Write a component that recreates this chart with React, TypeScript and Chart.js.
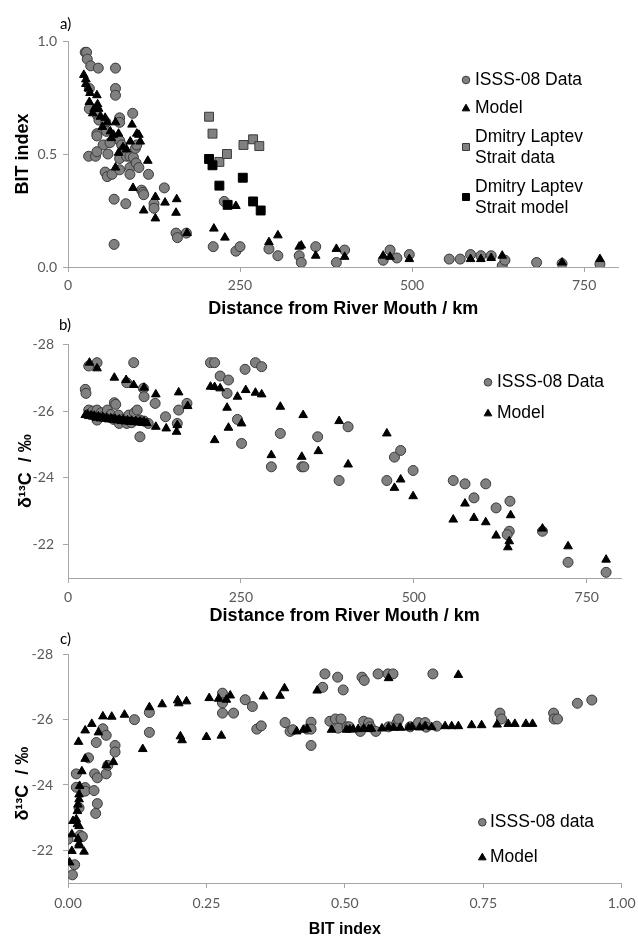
import React, { useEffect, useRef } from "react";
import { Chart, registerables } from "chart.js";
Chart.register(...registerables);

type Pt = [number, number];

// ---------- Panel a: BIT index vs distance (km) ----------
const aIsssData: Pt[] = [
  [25, 0.95], [27, 0.95], [28, 0.92], [33, 0.89], [44, 0.88], [69, 0.88], [69, 0.79], [69, 0.76],
  [31, 0.79], [31, 0.7], [43, 0.67], [45, 0.65], [42, 0.59], [42, 0.58], [55, 0.64], [56, 0.6],
  [75, 0.66], [75, 0.64], [75, 0.56], [94, 0.68], [51, 0.54], [58, 0.5], [30, 0.49], [40, 0.49],
  [42, 0.51], [54, 0.42], [57, 0.4], [64, 0.41], [61, 0.55], [75, 0.48], [75, 0.43], [78, 0.54],
  [81, 0.52], [85, 0.49], [90, 0.49], [95, 0.485], [90, 0.44], [90, 0.41], [99, 0.46], [98, 0.525],
  [100, 0.54], [103, 0.44], [117, 0.41], [107, 0.34], [109, 0.33], [110, 0.32], [125, 0.28], [125, 0.26],
  [140, 0.35], [84, 0.28], [67, 0.3], [67, 0.1], [157, 0.15], [159, 0.13], [172, 0.15], [227, 0.29],
  [211, 0.09], [244, 0.07], [250, 0.09], [292, 0.08], [305, 0.05], [336, 0.05], [339, 0.02], [360, 0.09],
  [390, 0.02], [402, 0.075], [458, 0.03], [468, 0.075], [478, 0.04], [496, 0.055], [554, 0.035], [570, 0.035],
  [585, 0.055], [600, 0.05], [615, 0.05], [631, 0.005], [635, 0.03], [681, 0.02], [718, 0.015], [773, 0.013],
];
const aModel: Pt[] = [
  [23, 0.85], [26, 0.83], [26, 0.81], [29.5, 0.79], [32, 0.77], [31, 0.73], [36, 0.68], [38, 0.7],
  [42, 0.76], [43, 0.72], [44.5, 0.7], [47, 0.665], [50, 0.62], [54, 0.66], [57, 0.64], [61.5, 0.6],
  [63, 0.57], [66, 0.585], [69, 0.64], [73.5, 0.59], [80, 0.53], [85, 0.52], [93, 0.63], [100, 0.59],
  [103, 0.585], [90.5, 0.555], [105, 0.555], [73.5, 0.505], [69, 0.44], [94.5, 0.35], [110, 0.25], [116, 0.47],
  [127, 0.31], [127, 0.215], [141, 0.285], [158, 0.3], [157, 0.24], [173, 0.15], [212, 0.17], [228, 0.13],
  [244, 0.27], [292, 0.11], [305, 0.14], [336, 0.09], [339, 0.095], [360, 0.05], [390, 0.08], [402, 0.045],
  [458, 0.05], [468, 0.045], [496, 0.035], [585, 0.035], [600, 0.035], [615, 0.04], [631, 0.05], [718, 0.02],
  [773, 0.035],
];
const aLaptevData: Pt[] = [
  [205, 0.665], [210, 0.59], [220, 0.465], [231, 0.5], [255, 0.54], [269, 0.565], [278, 0.535],
];
const aLaptevModel: Pt[] = [
  [205, 0.478], [210, 0.45], [220, 0.36], [232, 0.275], [254, 0.395], [269, 0.29], [280, 0.25],
];

// ---------- Panel b: d13C vs distance (km) ----------
const bIsssData: Pt[] = [
  [25, -26.65], [26, -26.53], [30, -27.35], [42, -27.45], [95, -27.45], [85, -26.85], [109, -26.68], [110, -26.43],
  [126, -26.23], [141, -25.83], [160, -26.03], [158, -25.63], [172, -26.23], [104, -25.23], [116, -25.63], [67, -26.25],
  [69, -26.2], [30, -26.03], [36, -26.0], [42, -26.03], [42, -25.73], [48, -25.95], [52, -25.85], [57, -26.03],
  [62, -25.9], [66, -25.75], [73, -25.88], [74, -25.63], [80, -25.75], [85, -25.63], [88, -25.88], [92, -25.65],
  [96, -25.95], [100, -26.03], [104, -25.73], [110, -25.7],
  [206, -27.45], [212, -27.45], [220, -27.05], [232, -26.93], [230, -26.53], [256, -27.25], [271, -27.45], [280, -27.33],
  [245, -25.75], [251, -25.03], [294, -24.33], [307, -25.33], [338, -24.33], [341, -24.33], [361, -25.23], [392, -23.92],
  [405, -25.53], [461, -23.92], [472, -24.62], [481, -24.82], [499, -24.22], [557, -23.92], [574, -23.82], [587, -23.4],
  [604, -23.82], [619, -23.1], [639, -23.3], [638, -22.4], [635, -22.3], [686, -22.4], [723, -21.47], [778, -21.17],
];
const bModel: Pt[] = [
  [31, -27.45], [42, -27.28], [67, -27.0], [84, -26.93], [95, -26.78], [110, -26.7], [127, -26.5], [127, -25.53],
  [142, -25.48], [157, -25.38], [158, -25.58], [160, -26.56], [173, -26.15], [206, -26.73], [212, -26.72], [220, -26.68],
  [230, -26.1], [212, -25.13], [232, -25.5], [245, -26.43], [251, -25.63], [257, -26.63], [271, -26.55], [280, -26.5],
  [294, -24.68], [307, -26.13], [338, -24.63], [340, -25.88], [362, -24.8], [392, -25.7], [405, -24.4], [461, -25.33],
  [472, -23.7], [481, -23.95], [499, -23.45], [557, -22.75], [574, -23.23], [587, -22.8], [604, -22.67], [619, -22.27],
  [636, -21.92], [638, -22.1], [640, -22.88], [686, -22.48], [723, -21.95], [778, -21.55],
  [25, -25.88], [28, -25.9], [30, -25.85], [33, -25.87], [36, -25.83], [38, -25.86], [41, -25.8], [44, -25.84],
  [47, -25.78], [50, -25.82], [53, -25.77], [56, -25.8], [59, -25.75], [62, -25.78], [65, -25.74], [68, -25.77],
  [71, -25.72], [74, -25.75], [77, -25.7], [80, -25.74], [83, -25.69], [86, -25.72], [89, -25.68], [92, -25.71],
  [95, -25.67], [98, -25.7], [101, -25.66], [104, -25.69], [107, -25.65], [110, -25.68], [114, -25.64],
];

// ---------- Panel c: d13C vs BIT index ----------
const cIsssData: Pt[] = [
  [0.0, -22.34], [0.008, -21.25], [0.012, -21.56], [0.015, -24.34], [0.015, -23.93], [0.02, -23.3], [0.022, -22.46], [0.026, -22.42],
  [0.031, -23.92], [0.031, -23.81], [0.037, -24.83], [0.048, -24.34], [0.047, -23.83], [0.053, -24.22], [0.053, -23.43], [0.05, -23.13],
  [0.051, -25.3], [0.063, -25.72], [0.069, -25.52], [0.069, -24.34], [0.072, -24.6], [0.085, -25.21], [0.085, -25.01], [0.12, -26.0],
  [0.147, -26.22], [0.147, -25.61], [0.279, -26.81], [0.279, -26.51], [0.279, -26.2], [0.299, -26.2], [0.32, -26.61], [0.333, -26.4],
  [0.341, -25.71], [0.349, -25.81], [0.392, -25.91], [0.401, -25.64], [0.406, -25.69], [0.432, -25.71], [0.439, -25.92], [0.439, -25.71],
  [0.439, -25.21], [0.464, -27.4], [0.46, -26.99], [0.487, -27.3], [0.497, -26.91], [0.531, -27.3], [0.535, -27.2], [0.56, -27.4],
  [0.578, -27.4], [0.587, -27.4], [0.659, -27.4], [0.473, -25.95], [0.483, -26.02], [0.493, -26.02], [0.488, -25.74], [0.504, -25.78],
  [0.508, -25.78], [0.528, -25.64], [0.534, -25.95], [0.543, -25.9], [0.546, -25.78], [0.556, -25.64], [0.579, -25.78], [0.594, -25.9],
  [0.597, -26.02], [0.618, -25.78], [0.633, -25.91], [0.645, -25.91], [0.647, -25.77], [0.666, -25.8], [0.78, -26.2], [0.783, -26.02],
  [0.877, -26.2], [0.878, -26.02], [0.884, -26.02], [0.92, -26.5], [0.946, -26.6],
];
const cModel: Pt[] = [
  [0.003, -21.63], [0.007, -21.98], [0.029, -21.96], [0.007, -22.49], [0.018, -22.35], [0.02, -22.2], [0.02, -22.15], [0.009, -22.9],
  [0.015, -22.95], [0.017, -22.8], [0.02, -22.74], [0.017, -23.2], [0.018, -23.4], [0.02, -23.56], [0.02, -23.71], [0.021, -23.97],
  [0.025, -24.42], [0.031, -24.8], [0.069, -24.6], [0.082, -24.7], [0.019, -25.32], [0.031, -25.67], [0.043, -25.87], [0.055, -25.61],
  [0.063, -26.1], [0.079, -26.09], [0.102, -26.15], [0.135, -25.1], [0.147, -26.38], [0.17, -26.47], [0.198, -26.59], [0.2, -26.5],
  [0.214, -26.56], [0.203, -25.49], [0.206, -25.37], [0.25, -25.47], [0.255, -26.66], [0.272, -26.64], [0.277, -25.51], [0.286, -26.61],
  [0.293, -26.74], [0.353, -26.71], [0.383, -26.73], [0.391, -26.96], [0.413, -25.64], [0.425, -25.69], [0.432, -25.72], [0.45, -26.89],
  [0.579, -27.27], [0.705, -27.37],
  [0.476, -25.69], [0.503, -25.69], [0.509, -25.7], [0.515, -25.7], [0.524, -25.71], [0.534, -25.72], [0.543, -25.71], [0.548, -25.72],
  [0.567, -25.73], [0.579, -25.76], [0.588, -25.75], [0.6, -25.75], [0.615, -25.76], [0.621, -25.78], [0.635, -25.76], [0.645, -25.8],
  [0.657, -25.77], [0.681, -25.8], [0.693, -25.8], [0.705, -25.8], [0.729, -25.83], [0.747, -25.83], [0.775, -25.85], [0.795, -25.87],
  [0.807, -25.87], [0.827, -25.87], [0.839, -25.87],
];

// ---------- tick labels ----------
const distanceTicks = [0, 250, 500, 750];
const bitTicksY = [0, 0.5, 1.0];
const d13cTicks = [-28, -26, -24, -22];
const bitTicksX = [0, 0.25, 0.5, 0.75, 1.0];

const AXIS_GRAY = "#a6a6a6";
const TICK_COLOR = "#595959";
const TICK_FONT = { family: "Lato, 'Liberation Sans', sans-serif", size: 14 };
const TITLE_FAMILY = "'Liberation Sans', Arial, sans-serif";
const GRAY = "#808080";
const EDGE = "#3a3a3a";

type MarkerStyle = "circle" | "triangle" | "rect";

function drawMarker(ctx: CanvasRenderingContext2D, style: MarkerStyle, x: number, y: number, s: number, fill: string, stroke: string) {
  ctx.save();
  ctx.beginPath();
  if (style === "circle") {
    ctx.arc(x, y, s, 0, Math.PI * 2);
  } else if (style === "triangle") {
    ctx.moveTo(x, y - s);
    ctx.lineTo(x + s, y + s * 0.75);
    ctx.lineTo(x - s, y + s * 0.75);
    ctx.closePath();
  } else {
    ctx.rect(x - s, y - s, 2 * s, 2 * s);
  }
  ctx.fillStyle = fill;
  ctx.fill();
  ctx.lineWidth = 1;
  ctx.strokeStyle = stroke;
  ctx.stroke();
  ctx.restore();
}

type LegendEntry = { style: MarkerStyle; fill: string; stroke: string; size: number; mx: number; my: number; tx: number; lines: [string, number][] };

function overlayPlugin(label: string, labelPos: [number, number], entries: LegendEntry[]) {
  return {
    id: "overlay",
    afterDraw(chart: any) {
      const ctx: CanvasRenderingContext2D = chart.ctx;
      ctx.save();
      ctx.fillStyle = "#000";
      ctx.textBaseline = "middle";
      ctx.textAlign = "left";
      ctx.font = "15px Lato, 'Liberation Sans', sans-serif";
      ctx.fillText(label, labelPos[0], labelPos[1]);
      ctx.font = `17.5px ${TITLE_FAMILY}`;
      for (const e of entries) {
        drawMarker(ctx, e.style, e.mx, e.my, e.size, e.fill, e.stroke);
        for (const [t, y] of e.lines) {
          ctx.fillStyle = "#000";
          ctx.fillText(t, e.tx, y);
        }
      }
      ctx.restore();
    },
  };
}

type AxisSpec = {
  isX: boolean; min: number; max: number; reverse?: boolean; ticks: number[];
  fmt: (v: number) => string; size: number; pad: number; title: string; titleSize: number; titlePad: number;
};

function axis(a: AxisSpec) {
  return {
    type: "linear",
    position: a.isX ? "bottom" : "left",
    min: a.min,
    max: a.max,
    reverse: !!a.reverse,
    afterBuildTicks: (s: any) => {
      s.ticks = a.ticks.map((v) => ({ value: v }));
    },
    afterFit: (s: any) => {
      if (a.isX) s.height = a.size;
      else s.width = a.size;
      s.paddingLeft = 0;
      s.paddingRight = 0;
      s.paddingTop = 0;
      s.paddingBottom = 0;
    },
    grid: { display: true, drawOnChartArea: false, drawTicks: true, tickLength: 5, color: AXIS_GRAY, lineWidth: 1 },
    border: { display: true, color: AXIS_GRAY, width: 1 },
    ticks: {
      color: TICK_COLOR,
      font: TICK_FONT,
      padding: a.pad,
      autoSkip: false,
      maxRotation: 0,
      callback: (v: any) => a.fmt(Number(v)),
    },
    title: {
      display: true,
      text: a.title,
      color: "#000",
      font: { family: TITLE_FAMILY, size: a.titleSize, weight: "bold" },
      padding: { top: a.titlePad, bottom: a.titlePad },
    },
  };
}

function ds(label: string, pts: Pt[], style: MarkerStyle, fill: string, stroke: string, r: number, order: number) {
  return {
    label,
    data: pts.map(([x, y]) => ({ x, y })),
    pointStyle: style,
    pointRadius: r,
    pointHoverRadius: r,
    pointBackgroundColor: fill,
    pointBorderColor: stroke,
    pointBorderWidth: 1,
    showLine: false,
    order,
  };
}

function baseOptions(padding: any, x: any, y: any) {
  return {
    responsive: false,
    animation: false,
    devicePixelRatio: 1,
    layout: { padding },
    plugins: { legend: { display: false }, tooltip: { enabled: false } },
    scales: { x, y },
  };
}

const fmtInt = (v: number) => String(v);

function configA() {
  return {
    type: "scatter",
    data: {
      datasets: [
        ds("Dmitry Laptev Strait model", aLaptevModel, "rect", "#000", "#000", 6.3, 0),
        ds("Dmitry Laptev Strait data", aLaptevData, "rect", GRAY, EDGE, 6.3, 1),
        ds("Model", aModel, "triangle", "#000", "#000", 5, 2),
        ds("ISSS-08 Data", aIsssData, "circle", GRAY, EDGE, 5, 3),
      ],
    },
    options: baseOptions(
      { top: 41, right: 19.5, bottom: 0, left: 0 },
      axis({ isX: true, min: 0, max: 800, ticks: distanceTicks, fmt: fmtInt, size: 53, pad: 5, title: "Distance from River Mouth / km", titleSize: 18, titlePad: 0 }),
      axis({ isX: false, min: 0, max: 1, ticks: bitTicksY, fmt: (v) => v.toFixed(1), size: 68, pad: 6, title: "BIT index", titleSize: 18, titlePad: 12 })
    ),
    plugins: [
      overlayPlugin("a)", [60, 24], [
        { style: "circle", fill: GRAY, stroke: EDGE, size: 3.8, mx: 466, my: 80, tx: 475, lines: [["ISSS-08 Data", 80]] },
        { style: "triangle", fill: "#000", stroke: "#000", size: 3.8, mx: 466, my: 108, tx: 475, lines: [["Model", 108]] },
        { style: "rect", fill: GRAY, stroke: EDGE, size: 3.5, mx: 466, my: 147, tx: 475, lines: [["Dmitry Laptev", 137], ["Strait data", 158]] },
        { style: "rect", fill: "#000", stroke: "#000", size: 3.5, mx: 466, my: 197, tx: 475, lines: [["Dmitry Laptev", 187], ["Strait model", 208]] },
      ]),
    ],
  };
}

function configB() {
  return {
    type: "scatter",
    data: {
      datasets: [
        ds("Model", bModel, "triangle", "#000", "#000", 5, 0),
        ds("ISSS-08 Data", bIsssData, "circle", GRAY, EDGE, 5, 1),
      ],
    },
    options: baseOptions(
      { top: 30.3, right: 16.7, bottom: 0, left: 0 },
      axis({ isX: true, min: 0, max: 800, ticks: distanceTicks, fmt: fmtInt, size: 49, pad: 6.5, title: "Distance from River Mouth / km", titleSize: 18, titlePad: 0 }),
      axis({ isX: false, min: -28, max: -21, reverse: true, ticks: d13cTicks, fmt: fmtInt, size: 68, pad: 9, title: "\u03b4\u00b9\u00b3C  / \u2030\u00a0\u00a0\u00a0\u00a0", titleSize: 18, titlePad: 15 })
    ),
    plugins: [
      overlayPlugin("b)", [59, 11], [
        { style: "circle", fill: GRAY, stroke: EDGE, size: 3.8, mx: 488, my: 68.3, tx: 497, lines: [["ISSS-08 Data", 68]] },
        { style: "triangle", fill: "#000", stroke: "#000", size: 3.8, mx: 488, my: 99, tx: 497, lines: [["Model", 99]] },
      ]),
    ],
  };
}

function configC() {
  return {
    type: "scatter",
    data: {
      datasets: [
        ds("Model", cModel, "triangle", "#000", "#000", 5, 0),
        ds("ISSS-08 data", cIsssData, "circle", GRAY, EDGE, 5, 1),
      ],
    },
    options: baseOptions(
      { top: 29.3, right: 16.3, bottom: 0, left: 0 },
      axis({ isX: true, min: 0, max: 1, ticks: bitTicksX, fmt: (v) => v.toFixed(2), size: 56, pad: 7.5, title: "BIT index", titleSize: 16, titlePad: 0 }),
      axis({ isX: false, min: -28, max: -21, reverse: true, ticks: d13cTicks, fmt: fmtInt, size: 68, pad: 10, title: "\u03b4\u00b9\u00b3C  / \u2030\u00a0\u00a0\u00a0\u00a0\u00a0\u00a0", titleSize: 18, titlePad: 12 })
    ),
    plugins: [
      overlayPlugin("c)", [60, 14], [
        { style: "circle", fill: GRAY, stroke: EDGE, size: 3.8, mx: 482.3, my: 197.3, tx: 490, lines: [["ISSS-08 data", 197]] },
        { style: "triangle", fill: "#000", stroke: "#000", size: 3.8, mx: 482.3, my: 232, tx: 490, lines: [["Model", 232]] },
      ]),
    ],
  };
}

function Panel({ top, height, make }: { top: number; height: number; make: () => any }) {
  const ref = useRef<HTMLCanvasElement>(null);
  useEffect(() => {
    const chart = new Chart(ref.current as HTMLCanvasElement, make());
    return () => chart.destroy();
  }, [make]);
  return (
    <canvas
      ref={ref}
      width={638}
      height={height}
      style={{ position: "absolute", left: 0, top, width: 638, height, display: "block" }}
    />
  );
}

export default function App() {
  useEffect(() => {
    document.body.style.margin = "0";
    document.body.style.background = "#fff";
  }, []);
  return (
    <div style={{ position: "relative", width: 638, height: 937, overflow: "hidden", background: "#fff" }}>
      <Panel top={0} height={320} make={configA} />
      <Panel top={314} height={313} make={configB} />
      <Panel top={625} height={314} make={configC} />
    </div>
  );
}
